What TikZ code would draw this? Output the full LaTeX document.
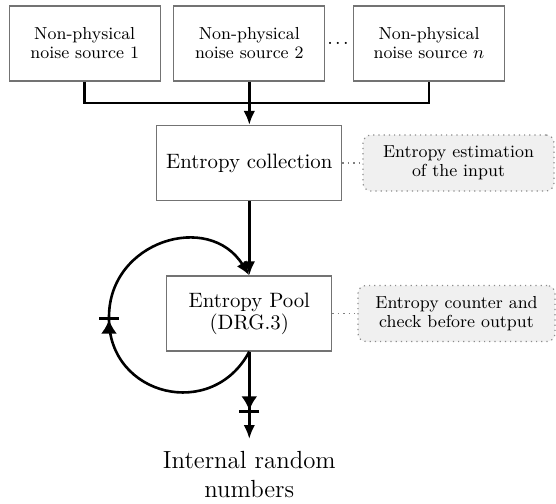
\documentclass[tikz,border=0pt]{standalone}
\usetikzlibrary{arrows.meta}
\begin{document}
\begin{tikzpicture}[x=0.5pt,y=0.5pt,
  srcbox/.style={draw=black!55, line width=0.6pt, minimum width=75.5pt, minimum height=37.5pt,
    inner sep=0pt, align=center, font=\fontsize{8.7}{9.5}\selectfont},
  stagebox/.style={draw=black!55, line width=0.6pt, minimum height=37.5pt,
    inner sep=0pt, align=center, font=\fontsize{10.4}{9.4}\selectfont},
  note/.style={draw=black!45, dotted, line width=0.6pt, fill=black!6, rounded corners=4pt,
    minimum height=28pt, inner sep=0pt, align=center, font=\fontsize{8.7}{9.5}\selectfont},
  wire/.style={line width=1.3pt},
  flow/.style={line width=1.3pt, -{Latex[length=7pt,width=5.8pt]}},
  tap/.style={line width=1.3pt, -{Latex[length=7pt,width=8pt] Bar[width=10pt]}},
  link/.style={draw=black!50, dotted, line width=0.7pt}]
\useasboundingbox (0,0) rectangle (556,-503);

% noise sources
\node[srcbox] (s1) at (84.7,-43.5) {Non-physical\\noise source 1};
\node[srcbox] (s2) at (249.3,-43.5) {Non-physical\\noise source 2};
\node[srcbox] (sn) at (429,-43.5) {Non-physical\\noise source $n$};
\node[font=\fontsize{10}{12}\selectfont, inner sep=0pt] (dots) at (338,-43) {.\kern1.2pt.\kern1.2pt.};

% processing stages
\node[stagebox, minimum width=92.5pt] (coll) at (249.3,-163) {Entropy collection};
\node[note, minimum width=95.5pt] (n1) at (458.5,-163) {Entropy estimation\\of the input};
\node[stagebox, minimum width=82.5pt] (pool) at (249.3,-313.5) {Entropy Pool\\(DRG.3)};
\node[note, minimum width=98.5pt] (n2) at (456.5,-313.5) {Entropy counter and\\check before output};

% output
\node[font=\fontsize{12.4}{14.5}\selectfont, align=center, anchor=north, inner ysep=6pt] (out)
  at (249.3,-439) {Internal random\\numbers};

% source bus
\coordinate (bus) at (249.3,-103);
\draw[wire] (s1.south) |- (bus) -| (sn.south);
\draw[flow] (s2.south) -- (coll.north);
\draw[flow] (coll.south) -- (pool.north);

% annotations
\draw[link] (coll.east) -- (n1.west);
\draw[link] (pool.east) -- (n2.west);

% feedback loop around the pool
\coordinate (loopL) at (109,-317);
\draw[tap] (pool.south) to[out=242,in=270,looseness=1.4] (loopL);
\draw[flow] (loopL) to[out=90,in=122,looseness=1.33] (pool.north);

% output path
\coordinate (tapOut) at (249.3,-413);
\draw[tap] (pool.south) -- (tapOut);
\draw[flow] (tapOut) -- (out.north);
\end{tikzpicture}
\end{document}
